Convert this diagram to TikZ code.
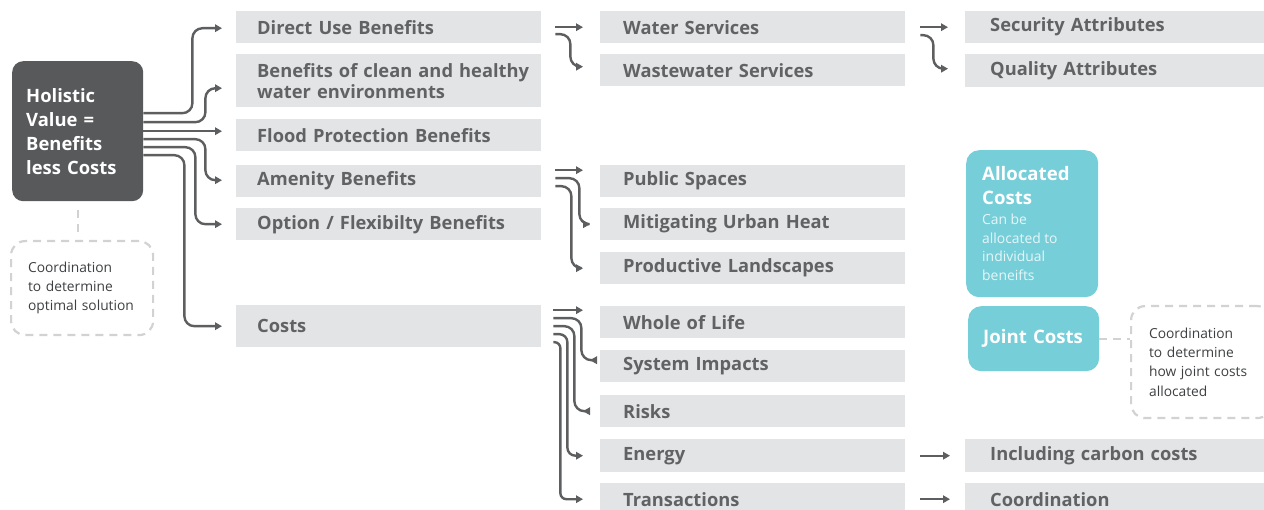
\documentclass[tikz,border=0pt]{standalone}
\usepackage{fontspec}
\setmainfont{Open Sans}
\usetikzlibrary{arrows.meta}
\definecolor{boxgray}{HTML}{E3E4E6}
\definecolor{txtgray}{HTML}{616264}
\definecolor{arrgray}{HTML}{5D5E60}
\definecolor{darkbox}{HTML}{58595B}
\definecolor{tealbox}{HTML}{76CED9}
\definecolor{tealtxt}{HTML}{E6F6F8}
\definecolor{dashgray}{HTML}{D1D2D4}
\definecolor{notetxt}{HTML}{3E3F41}
\begin{document}
\begin{tikzpicture}[x=1pt,y=-1pt,
  gbox/.style={fill=boxgray, anchor=north west, inner ysep=0pt, align=left, text=txtgray, font=\fontsize{18.3}{21}\selectfont\bfseries},
  c1/.style={gbox, text width=263pt, inner xsep=21pt},
  c2/.style={gbox, text width=259pt, inner xsep=23pt},
  c3/.style={gbox, text width=249pt, inner xsep=25pt},
  arr/.style={draw=arrgray, line width=2.4pt, rounded corners=10pt, -{Triangle[length=7pt,width=7.5pt]}},
  dsh/.style={draw=dashgray, line width=2.2pt, dash pattern=on 8pt off 6pt},
  note/.style={font=\fontsize{13.8}{19.3}\selectfont, text=notetxt, align=left}
]
\useasboundingbox (0,0) rectangle (1264,510);
\clip (0,0) rectangle (1264,510);
% column 1
\node[c1, minimum height=32pt] (du) at (236,11) {Direct Use Benefits};
\node[c1, minimum height=53pt] (bc) at (236,54) {\mbox{Benefits of clean and healthy}\\water environments};
\node[c1, minimum height=32pt] (fp) at (236,119) {Flood Protection Benefits};
\node[c1, minimum height=32pt] (am) at (236,165) {Amenity Benefits};
\node[c1, minimum height=32pt] (op) at (236,208) {Option / Flexibilty Benefits};
\node[c1, minimum height=42pt] (co) at (236,305) {Costs};
% column 2
\node[c2, minimum height=32pt] (ws) at (600,11) {Water Services};
\node[c2, minimum height=32pt] (wws) at (600,54) {Wastewater Services};
\node[c2, minimum height=32pt] (ps) at (600,165) {Public Spaces};
\node[c2, minimum height=32pt] (mu) at (600,208) {Mitigating Urban Heat};
\node[c2, minimum height=32pt] (pl) at (600,252) {Productive Landscapes};
\node[c2, minimum height=32pt] (wl) at (600,306) {Whole of Life};
\node[c2, minimum height=32pt] (si) at (600,350) {System Impacts};
\node[c2, minimum height=32pt] (ri) at (600,395) {Risks};
\node[c2, minimum height=33pt] (en) at (600,439) {Energy};
\node[c2, minimum height=32pt] (tr) at (600,483) {Transactions};
% column 3
\node[c3, minimum height=32pt] (sa) at (965,11) {Security Attributes};
\node[c3, minimum height=33pt] (qa) at (965,54) {Quality Attributes};
\node[c3, minimum height=33pt] (cc) at (965,439) {Including carbon costs};
\node[c3, minimum height=32pt] (coo) at (965,483) {Coordination};
% holistic
\node[fill=darkbox, rounded corners=11pt, anchor=north west, minimum width=131pt, minimum height=140pt, text width=103pt, inner xsep=14pt, align=left, text=white, font=\fontsize{18.4}{24}\selectfont\bfseries] (hv) at (12,61) {Holistic\\Value =\\Benefits\\less Costs};
\node[dsh, rounded corners=14pt, anchor=north west, minimum width=142pt, minimum height=94pt, text width=108pt, inner xsep=17pt, note] (cd1) at (10,240) {Coordination\\to determine\\optimal solution};
\draw[dsh] ([yshift=-9pt]hv.south) -- ([yshift=8pt]cd1.north -| hv.south);
% teal
\node[fill=tealbox, rounded corners=13pt, anchor=north west, minimum width=132pt, minimum height=147pt, text width=100pt, inner xsep=16pt, align=left, text=white] (al) at (966,150) {{\fontsize{18.6}{24}\selectfont\bfseries Allocated\\Costs\par}\vspace{1pt}{\fontsize{13.9}{18.7}\selectfont\color{tealtxt}Can be\\allocated to\\individual\\beneifts\par}};
\node[fill=tealbox, rounded corners=13pt, anchor=north west, minimum width=131pt, minimum height=65pt, text width=101pt, inner xsep=15pt, align=left, text=white, font=\fontsize{18.6}{24}\selectfont\bfseries] (jc) at (968,306) {Joint Costs};
\node[dsh, rounded corners=14pt, anchor=north west, minimum width=140pt, minimum height=112pt, text width=104pt, inner xsep=18pt, note] (cd2) at (1130,305) {Coordination\\to determine\\how joint costs\\allocated};
\draw[dsh] (jc.east) -- (jc.east -| cd2.west);
% arrows from holistic
\draw[arr] ([yshift=18pt]hv.east) -- ++(49,0) |- ([xshift=-14pt,yshift=-1pt]du.west);
\draw[arr] ([yshift=9pt]hv.east) -- ++(62,0) |- ([xshift=-14pt,yshift=-7.5pt]bc.west);
\draw[arr] (hv.east) -- ([xshift=-14pt]hv.east -| fp.west);
\draw[arr] ([yshift=-8pt]hv.east) -- ++(62,0) |- ([xshift=-14pt,yshift=1pt]am.west);
\draw[arr] ([yshift=-16pt]hv.east) -- ++(52,0) |- ([xshift=-14pt]op.west);
\draw[arr] ([yshift=-24pt]hv.east) -- ++(41,0) |- ([xshift=-14pt]co.west);
% column 1 to 2
\draw[arr] ([xshift=14pt]du.east) -- ([xshift=-17pt]du.east -| ws.west);
\draw[arr] ([xshift=14pt,yshift=-7pt]du.east) -- ++(15,0) |- ([xshift=-17pt,yshift=3.5pt]wws.west);
\draw[arr] ([xshift=14pt,yshift=11pt]am.east) -- ([xshift=-17pt,yshift=11pt]am.east -| ps.west);
\draw[arr] ([xshift=14pt,yshift=3pt]am.east) -- ++(24,0) |- ([xshift=-10pt]mu.west);
\draw[arr] ([xshift=14pt,yshift=-5pt]am.east) -- ++(16,0) |- ([xshift=-17pt]pl.west);
\draw[arr] ([xshift=12pt,yshift=16pt]co.east) -- ([xshift=-17pt,yshift=16pt]co.east -| wl.west);
\draw[arr] ([xshift=12pt,yshift=8pt]co.east) -- ++(28,0) |- ([xshift=-10pt,yshift=6pt]si.west);
\draw[arr] ([xshift=12pt]co.east) -- ++(21,0) |- ([xshift=-17pt]ri.west);
\draw[arr, rounded corners=8pt] ([xshift=12pt,yshift=-8pt]co.east) -- ++(14,0) |- ([xshift=-17pt]en.west);
\draw[arr, rounded corners=6pt] ([xshift=12pt,yshift=-16pt]co.east) -- ++(7,0) |- ([xshift=-17pt]tr.west);
% column 2 to 3
\draw[arr] ([xshift=15pt]ws.east) -- ([xshift=-17pt]ws.east -| sa.west);
\draw[arr] ([xshift=15pt,yshift=-8pt]ws.east) -- ++(13,0) |- ([xshift=-17pt,yshift=2pt]qa.west);
\draw[arr] ([xshift=15pt]en.east) -- ([xshift=-15pt]en.east -| cc.west);
\draw[arr] ([xshift=15pt]tr.east) -- ([xshift=-15pt]tr.east -| coo.west);
\end{tikzpicture}
\end{document}
